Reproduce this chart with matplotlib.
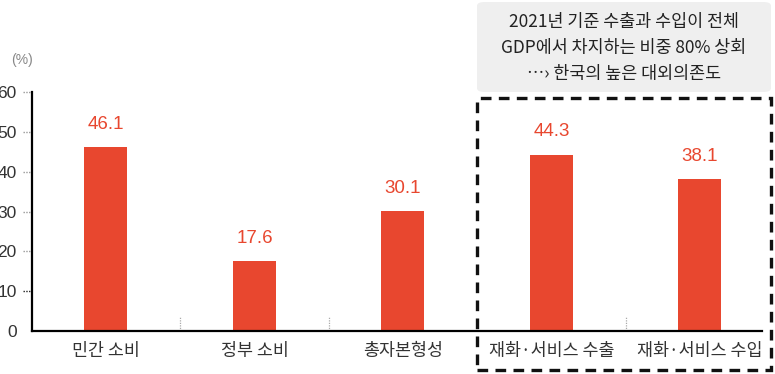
import numpy as np
import matplotlib
matplotlib.use("Agg")
import matplotlib.pyplot as plt
from matplotlib.patches import Rectangle, FancyBboxPatch

plt.rcParams['font.family'] = ['Noto Sans CJK KR', 'DejaVu Sans']

# === Data ===
categories = ["민간 소비", "정부 소비", "총자본형성", "재화·서비스 수출", "재화·서비스 수입"]
values = [46.1, 17.6, 30.1, 44.3, 38.1]
yticks = [0, 10, 20, 30, 40, 50, 60]
note_lines = ["2021년 기준 수출과 수입이 전체",
              "GDP에서 차지하는 비중 80% 상회",
              "⋯› 한국의 높은 대외의존도"]

BAR_COLOR = "#e8472f"
LABEL_COLOR = "#e8472f"
TEXT_COLOR = "#333333"
W, H = 775, 374


def fx(px):
    return px / W


def fy(py):
    return 1 - py / H


fig = plt.figure(figsize=(7.75, 3.74), dpi=100)
ax = fig.add_axes([fx(32), fy(331), fx(762) - fx(32), fy(92) - fy(331)])

x = np.arange(len(categories))
ax.bar(x, values, width=0.29, color=BAR_COLOR, zorder=2)
for xi, v in zip(x, values):
    ax.text(xi, v + 3.6, f"{v}", ha="center", va="bottom",
            color=LABEL_COLOR, fontsize=13.5, family="Liberation Sans")

ax.set_xlim(-0.498, 4.418)
ax.set_ylim(0, 59)

for s in ["top", "right"]:
    ax.spines[s].set_visible(False)
ax.spines["left"].set_linewidth(1.6)
ax.spines["left"].set_bounds(0, 60)
ax.spines["bottom"].set_linewidth(1.6)

ax.set_xticks(x)
ax.set_xticklabels(categories, fontsize=12.5, color=TEXT_COLOR)
ax.tick_params(axis="x", length=0, pad=8)
ax.set_yticks(yticks)
ax.set_yticklabels([str(t) for t in yticks], fontsize=12.5, color=TEXT_COLOR,
                   family="Liberation Sans")
ax.tick_params(axis="y", length=0, pad=11)

# dotted tick marks
ytr = ax.get_yaxis_transform()
for t in yticks[1:]:
    ax.plot([-0.013, 0], [t, t], transform=ytr, clip_on=False,
            color="#999999" if t != 10 else "#222222", lw=1.0, ls=(0, (1, 1)))

# dotted separators between categories
for sx in [0.5, 1.5, 3.5]:
    ax.plot([sx, sx], [0, 3.8], color="#aaaaaa", lw=0.9, ls=(0, (1, 1)), zorder=1)

fig.text(fx(22), fy(60), "(%)", ha="center", va="center", fontsize=10,
         color="#888888", family="Liberation Sans")

# highlight box
box = Rectangle((fx(477), fy(370)), fx(771) - fx(477), fy(98) - fy(370),
                transform=fig.transFigure, fill=False, ec="#111111",
                lw=2.4, ls=(0, (3.2, 2.2)), clip_on=False)
fig.patches.append(box)

note_bg = FancyBboxPatch((fx(477), fy(92)), fx(771) - fx(477), fy(2) - fy(92),
                         boxstyle="round,pad=0,rounding_size=0.01",
                         transform=fig.transFigure, fc="#efefef", ec="none")
fig.patches.append(note_bg)
for i, line in enumerate(note_lines):
    fig.text(fx(624), fy(22 + i * 26), line, ha="center", va="center",
             fontsize=12.5, color="#222222")

fig.savefig("out.png", dpi=100)
